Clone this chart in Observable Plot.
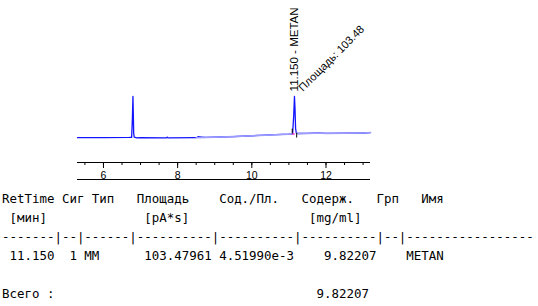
<!DOCTYPE html>
<html>
<head>
<meta charset="utf-8">
<script src="https://cdn.jsdelivr.net/npm/d3@7"></script>
<script src="https://cdn.jsdelivr.net/npm/@observablehq/plot@0.6"></script>
<style>
  html, body { margin: 0; padding: 0; background: #fff; }
  #wrap { position: relative; width: 538px; height: 306px; overflow: hidden; }
  #chart { position: absolute; left: 0; top: 0; }
  #tbl { position: absolute; left: 2px; top: 189px; font-family: "DejaVu Sans Mono", "Liberation Mono", monospace;
         font-size: 12.45px; line-height: 19px; white-space: pre; color: #000; }
  #tbl div { height: 19px; }
</style>
</head>
<body>
<div id="wrap"><div id="chart"></div><div id="tbl"></div></div>
<script>
// ---- chromatogram data (time in min, signal in arbitrary units) ----
const sigTime = [5.30, 6.00, 6.70, 6.76, 6.78, 6.795, 6.805, 6.815, 6.83, 6.90, 7.00, 7.70, 7.72, 7.74, 8.50, 8.55, 8.65, 8.75, 9.00, 9.50, 10.00, 10.50, 11.00, 11.10, 11.13, 11.15, 11.165, 11.18, 11.20, 11.25, 11.50, 11.80, 12.00, 12.50, 13.00, 13.20];
const sigValue = [15.3, 15.4, 15.5, 15.6, 27.0, 40.8, 30.0, 18.0, 15.6, 15.2, 15.3, 15.2, 15.7, 15.2, 15.3, 15.9, 15.7, 15.5, 15.6, 16.0, 16.5, 17.0, 17.5, 17.7, 29.0, 40.8, 33.0, 21.0, 18.2, 17.9, 18.0, 18.2, 18.0, 18.1, 18.2, 18.5];
// integration baseline (drawn lighter)
const baseTime = [8.50, 9.00, 9.50, 10.00, 10.50, 11.00, 11.10];
const baseValue = [15.3, 15.6, 16.0, 16.5, 17.0, 17.5, 17.7];
const base2Time = [11.20, 11.25, 11.50, 11.80, 12.00, 12.50, 13.00, 13.20];
const base2Value = [18.2, 17.9, 18.0, 18.2, 18.0, 18.1, 18.2, 18.5];
// peak annotation
const peakTime = [11.15];
const peakTop = [40.8];
const peakName = ["11.150 - METAN"];
const peakAreaLabel = ["Площадь: 103.48"];
const peakStart = [11.09], peakStartValue = [17.6];
const peakEnd = [11.21], peakEndValue = [18.1];
// axis ticks
const majorTicks = [6, 8, 10, 12];
const minorTicks = [5.5, 6, 6.5, 7, 7.5, 8, 8.5, 9, 9.5, 10, 10.5, 11, 11.5, 12, 12.5, 13];

// ---- report table data ----
const headers = ["RetTime", "Сиг", "Тип", "Площадь", "Сод./Пл.", "Содерж.", "Грп", "Имя"];
const units = ["[мин]", "", "", "[pA*s]", "", "[mg/ml]", "", ""];
const rowValues = ["11.150", "1", "MM", "103.47961", "4.51990e-3", "9.82207", "", "METAN"];
const dashWidths = [7, 2, 6, 10, 10, 10, 2, 17];
const totalLabel = "Всего :";
const totalValue = "9.82207";

// ---- layout ----
const headerCols = [0, 8, 12, 18, 29, 40, 50, 56];
const unitCols = [1, 0, 0, 19, 0, 41, 0, 0];
const rowCols = [1, 9, 11, 19, 29, 43, 50, 54];
const totalCol = 42;

const signal = sigTime.map((t, i) => ({t, v: sigValue[i]}));
const base1 = baseTime.map((t, i) => ({t, v: baseValue[i]}));
const base2 = base2Time.map((t, i) => ({t, v: base2Value[i]}));
const peaks = peakTime.map((t, i) => ({t, v: peakTop[i], name: peakName[i], area: peakAreaLabel[i]}));
const starts = peakStart.map((t, i) => ({t, v: peakStartValue[i]}));
const ends = peakEnd.map((t, i) => ({t, v: peakEndValue[i]}));

const chart = Plot.plot({
  width: 538, height: 184,
  marginLeft: 77, marginRight: 168, marginTop: 0, marginBottom: 22,
  x: {domain: [5.3, 13.2], label: null},
  y: {domain: [0, 100], axis: null},
  style: {fontFamily: "'Liberation Sans', Arial, sans-serif", fontSize: "10.5px", color: "#000", background: "transparent", overflow: "visible"},
  marks: [
    Plot.axisX(minorTicks, {tickSize: 3, tickFormat: () => "", label: null, stroke: "#000"}),
    Plot.axisX(majorTicks, {tickSize: 6, tickPadding: 3, tickFormat: d => String(d), label: null, stroke: "#000", fill: "#000", fontSize: 10.5}),
    Plot.ruleY([0], {stroke: "#000"}),
    Plot.ruleY([0], {stroke: "#000", dy: 17}),
    Plot.line(signal, {x: "t", y: "v", stroke: "#1414ff", strokeWidth: 1.3}),
    Plot.line(base1, {x: "t", y: "v", stroke: "#9c9cff", strokeWidth: 1.6}),
    Plot.line(base2, {x: "t", y: "v", stroke: "#9c9cff", strokeWidth: 1.6}),
    Plot.line([{t: 11.10, v: 17.6}, {t: 11.14, v: 17.6}], {x: "t", y: "v", stroke: "#ff33cc", strokeWidth: 1.5}),
    Plot.ruleX(starts, {x: "t", y1: "v", y2: d => d.v + 3, stroke: "#000"}),
    Plot.ruleX(ends, {x: "t", y1: d => d.v - 3, y2: "v", stroke: "#000"}),
    Plot.text(peaks, {x: "t", y: "v", text: "name", rotate: -90, textAnchor: "start", dy: -5, fontSize: 11.5, fill: "#000"}),
    Plot.text(peaks, {x: "t", y: "v", text: "area", rotate: -45, textAnchor: "start", dx: 6, dy: -7, fontSize: 11, fill: "#000"})
  ]
});
document.getElementById("chart").appendChild(chart);

// ---- table ----
function placeLine(texts, cols) {
  let s = "";
  texts.forEach((t, i) => { if (t) s = s.padEnd(cols[i]) + t; });
  return s;
}
const lines = [
  placeLine(headers, headerCols),
  placeLine(units, unitCols),
  dashWidths.map(w => "-".repeat(w)).join("|"),
  placeLine(rowValues, rowCols),
  "",
  placeLine([totalLabel, totalValue], [0, totalCol])
];
const tbl = document.getElementById("tbl");
lines.forEach(l => {
  const div = document.createElement("div");
  div.textContent = l;
  tbl.appendChild(div);
});
</script>
</body>
</html>
